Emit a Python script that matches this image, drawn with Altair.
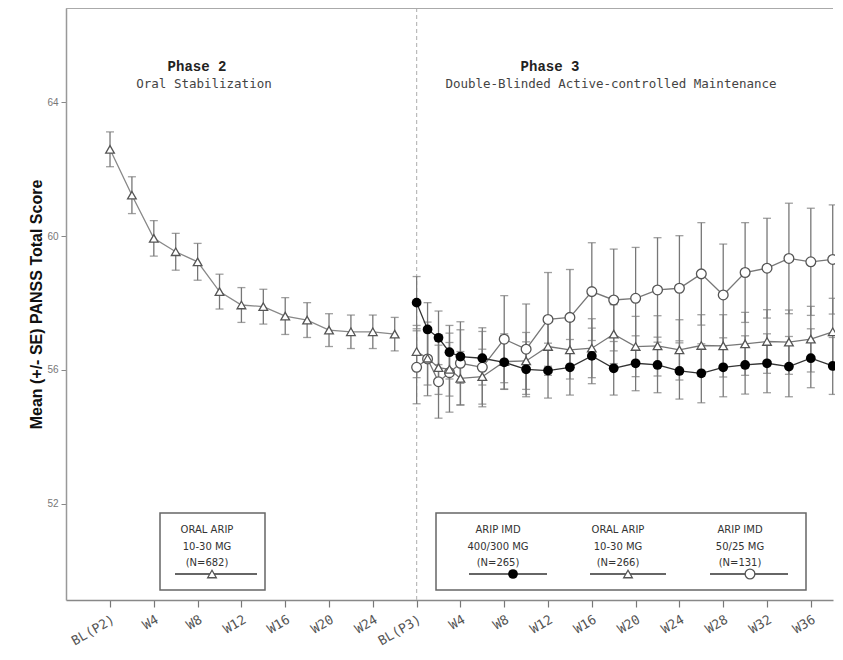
import altair as alt
import pandas as pd

# ---------------- data ----------------
p2_weeks = [0, 2, 4, 6, 8, 10, 12, 14, 16, 18, 20, 22, 24, 26]
p2_oral_mean = [62.59, 61.22, 59.93, 59.53, 59.23, 58.34, 57.94, 57.89, 57.61, 57.49, 57.19, 57.14, 57.14, 57.07]
p2_oral_se = [0.52, 0.55, 0.53, 0.55, 0.55, 0.52, 0.52, 0.52, 0.55, 0.52, 0.49, 0.50, 0.50, 0.50]

p3_weeks = [0, 1, 2, 3, 4, 6, 8, 10, 12, 14, 16, 18, 20, 22, 24, 26, 28, 30, 32, 34, 36, 38]
imd400_mean = [58.01, 57.21, 56.96, 56.53, 56.40, 56.35, 56.23, 56.02, 55.98, 56.08, 56.42, 56.05,
               56.20, 56.15, 55.97, 55.90, 56.08, 56.15, 56.20, 56.10, 56.35, 56.12]
imd400_se = [0.78, 0.80, 0.80, 0.80, 0.80, 0.80, 0.80, 0.82, 0.82, 0.83, 0.83, 0.80,
             0.82, 0.83, 0.84, 0.88, 0.88, 0.87, 0.88, 0.90, 0.88, 0.85]
oral_mean = [56.55, 56.35, 56.07, 56.02, 55.75, 55.80, 56.25, 56.27, 56.70, 56.60, 56.65, 57.07,
             56.70, 56.72, 56.60, 56.73, 56.72, 56.78, 56.85, 56.83, 56.92, 57.14]
oral_se = [0.78, 0.80, 0.80, 0.80, 0.80, 0.82, 0.83, 0.85, 0.86, 0.87, 0.88, 0.88,
           0.90, 0.90, 0.90, 0.92, 0.93, 0.94, 0.95, 0.96, 0.98, 1.00]
imd50_mean = [56.08, 56.33, 55.65, 55.92, 56.20, 56.08, 56.92, 56.62, 57.51, 57.57, 58.34, 58.09,
              58.14, 58.39, 58.44, 58.87, 58.24, 58.91, 59.04, 59.33, 59.23, 59.30]
imd50_se = [1.09, 1.10, 1.09, 1.18, 1.24, 1.18, 1.30, 1.35, 1.40, 1.43, 1.46, 1.52,
            1.52, 1.56, 1.57, 1.53, 1.52, 1.49, 1.49, 1.65, 1.60, 1.63]

x_tick_values = [0, 4, 8, 12, 16, 20, 24, 28, 32, 36, 40, 44, 48, 52, 56, 60, 64]
x_tick_labels = ["BL(P2)", "W4", "W8", "W12", "W16", "W20", "W24", "BL(P3)",
                 "W4", "W8", "W12", "W16", "W20", "W24", "W28", "W32", "W36"]
y_tick_values = [52, 56, 60, 64]

legend_left = ["ORAL ARIP", "10-30 MG", "(N=682)"]
legend_cols = [["ARIP IMD", "400/300 MG", "(N=265)"],
               ["ORAL ARIP", "10-30 MG", "(N=266)"],
               ["ARIP IMD", "50/25 MG", "(N=131)"]]

# ---------------- layout ----------------
P3_OFFSET = 28
PX_PER_UNIT = 10.95
W, H = 767, 592
LEFT, TOP = 66, 8  # page position of plot origin
X0 = -4.02
X1 = X0 + W / PX_PER_UNIT
Y0, Y1 = 49.13, 66.81


def ux(px):
    return X0 + (px - LEFT) / PX_PER_UNIT


def vy(py):
    return Y1 - (py - TOP) / H * (Y1 - Y0)


xs = alt.Scale(domain=[X0, X1], nice=False, zero=False)
ys = alt.Scale(domain=[Y0, Y1], nice=False, zero=False)


def frame(weeks, mean, se, offset):
    return pd.DataFrame({
        "pos": [w + offset for w in weeks],
        "mean": mean,
        "lo": [m - s for m, s in zip(mean, se)],
        "hi": [m + s for m, s in zip(mean, se)],
    })


d_p2 = frame(p2_weeks, p2_oral_mean, p2_oral_se, 0)
d_400 = frame(p3_weeks, imd400_mean, imd400_se, P3_OFFSET)
d_oral = frame(p3_weeks, oral_mean, oral_se, P3_OFFSET)
d_50 = frame(p3_weeks, imd50_mean, imd50_se, P3_OFFSET)

label_expr = " : ".join(
    [f"datum.value == {v} ? '{t}'" for v, t in zip(x_tick_values, x_tick_labels)]
) + " : ''"

x_axis = alt.Axis(orient="bottom", values=x_tick_values, labelExpr=label_expr, labelAngle=330,
                  labelAlign="right", labelBaseline="top", labelFont="DejaVu Sans Mono",
                  labelFontSize=13, labelColor="#555", tickSize=7, tickColor="#777",
                  tickWidth=1.2, domainColor="#888", domainWidth=1.5, title=None,
                  grid=False, labelPadding=6, labelOverlap=False, labelBound=False)
y_axis = alt.Axis(orient="left", values=y_tick_values, labelFont="Liberation Sans", labelFontSize=10,
                  labelColor="#777", tickSize=5, tickColor="#888", domainColor="#999",
                  domainWidth=1.5, grid=False, labelPadding=3,
                  title="Mean (+/- SE) PANSS Total Score", titleFont="Liberation Sans",
                  titleFontSize=16, titleFontWeight="bold", titleColor="#111",
                  titleAngle=270, titleX=-30, titleY=296, titleAlign="center",
                  titleBaseline="middle")


def X(f):
    return alt.X(f, scale=xs, axis=x_axis)


def Y(f):
    return alt.Y(f, scale=ys, axis=y_axis)


# separator & top border
sep = alt.Chart(pd.DataFrame({"pos": [P3_OFFSET]})).mark_rule(
    color="#bbb", strokeDash=[4, 3], strokeWidth=1.2
).encode(x=X("pos:Q"), y=alt.value(0), y2=alt.value(H))

top_border = alt.Chart(pd.DataFrame({"a": [0]})).mark_rule(color="#aaa", strokeWidth=2).encode(
    x=alt.value(0), x2=alt.value(W), y=alt.value(0))

# legend boxes
boxes = pd.DataFrame({
    "x": [ux(160), ux(436)], "x2": [ux(265), ux(806)],
    "y": [vy(513), vy(513)], "y2": [vy(590), vy(590)],
})
box_layer = alt.Chart(boxes).mark_rect(fill="white", stroke="#666", strokeWidth=1.5).encode(
    x=X("x:Q"), x2="x2:Q", y=Y("y:Q"), y2="y2:Q")

leg_lines = pd.DataFrame({
    "x": [ux(175), ux(469), ux(590), ux(710)],
    "x2": [ux(257), ux(547), ux(666), ux(788)],
    "y": [vy(574)] * 4,
})
leg_line_layer = alt.Chart(leg_lines).mark_rule(color="#333", strokeWidth=1.6).encode(
    x=X("x:Q"), x2="x2:Q", y=Y("y:Q"))


def point_mark(base, kind):
    if kind == "tri":
        return base.mark_point(shape="triangle-up", filled=True, fill="white", stroke="#555",
                               strokeWidth=1.3, size=75, opacity=1)
    if kind == "dot":
        return base.mark_point(shape="circle", filled=True, color="black", size=95, opacity=1)
    return base.mark_point(shape="circle", filled=True, fill="white", stroke="#555",
                           strokeWidth=1.3, size=95, opacity=1)


def series_layers(df, line_color, kind, err_color="#777"):
    base = alt.Chart(df)
    err = base.mark_rule(color=err_color, strokeWidth=1.3).encode(
        x=X("pos:Q"), y=Y("lo:Q"), y2="hi:Q")
    cap_lo = base.mark_tick(color=err_color, orient="horizontal", size=8, thickness=1.3).encode(
        x=X("pos:Q"), y=Y("lo:Q"))
    cap_hi = base.mark_tick(color=err_color, orient="horizontal", size=8, thickness=1.3).encode(
        x=X("pos:Q"), y=Y("hi:Q"))
    line = base.mark_line(color=line_color, strokeWidth=1.3).encode(
        x=X("pos:Q"), y=Y("mean:Q"))
    pts = point_mark(base, kind).encode(x=X("pos:Q"), y=Y("mean:Q"))
    return [err, cap_lo, cap_hi], [line], [pts]


errs, lines, pts = [], [], []
for df, lc, kind in [(d_p2, "#888", "tri"), (d_50, "#777", "circ"),
                     (d_oral, "#777", "tri"), (d_400, "#333", "dot")]:
    e, l, p = series_layers(df, lc, kind)
    errs += e
    lines += l
    pts += p

# legend symbols
leg_syms = []
for px, kind in [(212, "tri"), (513, "dot"), (628, "tri"), (750, "circ")]:
    dfp = pd.DataFrame({"pos": [ux(px)], "mean": [vy(574)]})
    leg_syms.append(point_mark(alt.Chart(dfp), kind).encode(x=X("pos:Q"), y=Y("mean:Q")))

# text annotations
heads = pd.DataFrame({"t": ["Phase 2", "Phase 3"], "x": [ux(197), ux(550)], "y": [vy(67), vy(67)]})
subs = pd.DataFrame({"t": ["Oral Stabilization", "Double-Blinded Active-controlled Maintenance"],
                     "x": [ux(204), ux(611)], "y": [vy(84), vy(84)]})
head_layer = alt.Chart(heads).mark_text(font="Liberation Mono", fontSize=14, fontWeight="bold",
                                        color="#222", baseline="middle").encode(
    x=X("x:Q"), y=Y("y:Q"), text="t:N")
sub_layer = alt.Chart(subs).mark_text(font="DejaVu Sans Mono", fontSize=12.5, color="#444",
                                      baseline="middle").encode(
    x=X("x:Q"), y=Y("y:Q"), text="t:N")

leg_txt_rows = []
for i, t in enumerate(legend_left):
    leg_txt_rows.append({"t": t, "x": ux(207), "y": vy(530 + 16.5 * i)})
for cx, col in zip([498, 618, 740], legend_cols):
    for i, t in enumerate(col):
        leg_txt_rows.append({"t": t, "x": ux(cx), "y": vy(530 + 16.5 * i)})
leg_txt = alt.Chart(pd.DataFrame(leg_txt_rows)).mark_text(
    font="DejaVu Sans", fontSize=10, color="#333", baseline="middle").encode(
    x=X("x:Q"), y=Y("y:Q"), text="t:N")

chart = alt.layer(
    sep, top_border, box_layer, leg_line_layer,
    *errs, *lines, *pts, *leg_syms, head_layer, sub_layer, leg_txt
).properties(
    width=W, height=H,
    autosize=alt.AutoSizeParams(type="none"),
    padding={"left": LEFT - 8, "top": 0, "right": 2, "bottom": 52},
    background="white",
).configure_view(stroke=None)

chart.save("out.html", embed_options={"renderer": "svg", "actions": False})
